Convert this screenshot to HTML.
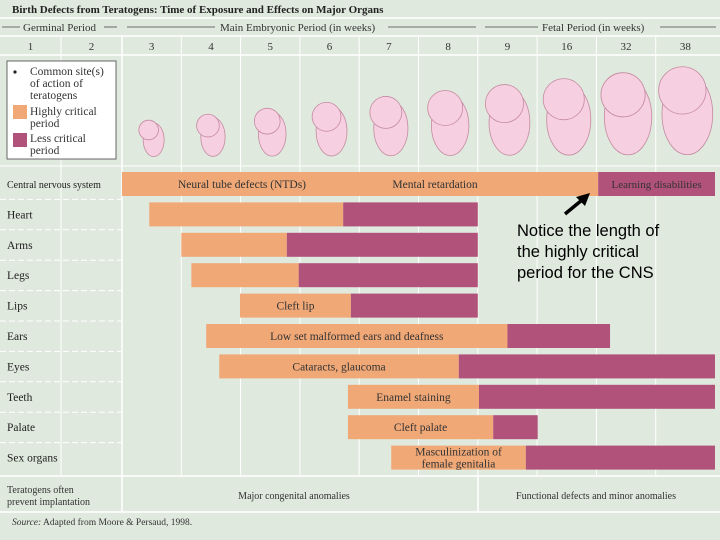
<!DOCTYPE html>
<html><head><meta charset="utf-8"><style>
body{margin:0;background:#dfe9dd;}
svg{display:block;font-family:"Liberation Serif",serif;}
</style></head><body>
<svg id="c" width="720" height="540" viewBox="0 0 720 540">
<rect x="0" y="0" width="720" height="540" fill="#dfe9dd"/>
<g id="grid"></g>
<text x="12" y="13" font-size="11" font-weight="bold" fill="#222">Birth Defects from Teratogens: Time of Exposure and Effects on Major Organs</text>
<g font-size="11" fill="#333">
<text x="23" y="31">Germinal Period</text>
<text x="220" y="31">Main Embryonic Period (in weeks)</text>
<text x="542" y="31">Fetal Period (in weeks)</text>
</g>
<g stroke="#444" stroke-width="0.8">
<line x1="2" y1="27" x2="20" y2="27"/><line x1="104" y1="27" x2="117" y2="27"/>
<line x1="127" y1="27" x2="215" y2="27"/><line x1="388" y1="27" x2="476" y2="27"/>
<line x1="485" y1="27" x2="538" y2="27"/><line x1="660" y1="27" x2="716" y2="27"/>
</g>
<g id="weeks" font-size="11" fill="#333" text-anchor="middle"></g>
<g>
<rect x="7" y="61" width="109" height="98" fill="#fff" stroke="#444" stroke-width="0.8"/>
<circle cx="15" cy="72" r="1.6" fill="#222"/>
<text x="30" y="75" font-size="11.5" fill="#333">Common site(s)</text>
<text x="30" y="87" font-size="11.5" fill="#333">of action of</text>
<text x="30" y="99" font-size="11.5" fill="#333">teratogens</text>
<rect x="13" y="105" width="14" height="14" fill="#f0a877"/>
<text x="30" y="115" font-size="11.5" fill="#333">Highly critical</text>
<text x="30" y="127" font-size="11.5" fill="#333">period</text>
<rect x="13" y="133" width="14" height="14" fill="#b0527a"/>
<text x="30" y="142" font-size="11.5" fill="#333">Less critical</text>
<text x="30" y="154" font-size="11.5" fill="#333">period</text>
</g>
<g id="embryos"></g>
<g id="bars"></g>
<g id="rows" font-size="11" fill="#222"></g>
<line x1="0" y1="476" x2="720" y2="476" stroke="#fff" stroke-width="1.5"/>
<line x1="122" y1="476" x2="122" y2="512" stroke="#fff" stroke-width="1.5"/>
<line x1="478" y1="476" x2="478" y2="512" stroke="#fff" stroke-width="1.5"/>
<line x1="0" y1="512" x2="720" y2="512" stroke="#fff" stroke-width="1.5"/>
<text x="7" y="493" font-size="10" fill="#333">Teratogens often</text>
<text x="7" y="505" font-size="10" fill="#333">prevent implantation</text>
<text x="294" y="499" font-size="10" fill="#333" text-anchor="middle">Major congenital anomalies</text>
<text x="596" y="499" font-size="10" fill="#333" text-anchor="middle">Functional defects and minor anomalies</text>
<text x="12" y="525" font-size="9.5" fill="#333"><tspan font-style="italic">Source:</tspan> Adapted from Moore &amp; Persaud, 1998.</text>
<g>
<line x1="565" y1="214" x2="582" y2="200" stroke="#000" stroke-width="3.5"/>
<polygon points="590,193 576,197 585,206" fill="#000"/>
<text font-family="Liberation Sans, sans-serif" font-size="16.5" fill="#000"><tspan x="517" y="236">Notice the length of</tspan><tspan x="517" y="257">the highly critical</tspan><tspan x="517" y="278">period for the CNS</tspan></text>
</g>
</svg>
<script>
const weekLabels=["1","2","3","4","5","6","7","8","9","16","32","38"];
const organs=["Central nervous system","Heart","Arms","Legs","Lips","Ears","Eyes","Teeth","Palate","Sex organs"];
const highStart=[2.0,2.46,3.0,3.17,3.99,3.42,3.64,5.81,5.81,6.54];
const highEnd=[10.03,5.73,4.78,4.98,5.86,8.5,7.68,8.02,8.26,8.81];
const lowEnd=[12,8,8,8,8,10.23,12,12,9.01,12];
const highText=["Neural tube defects (NTDs)","","","","Cleft lip","Low set malformed ears and deafness","Cataracts, glaucoma","Enamel staining","Cleft palate","Masculinization of|female genitalia"];
const lowText=["Learning disabilities","","","","","","","","",""];
const NS="http://www.w3.org/2000/svg";
function xs(v){return v<2?v*61:122+(v-2)*59.3;}
function ys(i){return 172+i*30.4;}
function mk(t,a,p){const e=document.createElementNS(NS,t);for(const k in a)e.setAttribute(k,a[k]);p.appendChild(e);return e;}
const grid=document.getElementById('grid');
mk('line',{x1:0,y1:18,x2:720,y2:18,stroke:'#fff','stroke-width':1.5},grid);
mk('line',{x1:0,y1:36,x2:720,y2:36,stroke:'#fff','stroke-width':1.5},grid);
mk('line',{x1:0,y1:55,x2:720,y2:55,stroke:'#fff','stroke-width':1.5},grid);
for(let c=1;c<weekLabels.length;c++){
 const x=xs(c);
 const l=mk('line',{x1:x,y1:36,x2:x,y2:476,stroke:'#fff','stroke-width':c==2?1.5:1},grid);
 
 
}
mk('line',{x1:0,y1:166,x2:720,y2:166,stroke:'#fff','stroke-width':1},grid);
const wk=document.getElementById('weeks');
weekLabels.forEach((w,c)=>{
 const t=mk('text',{x:(xs(c)+xs(c+1))/2,y:50},wk);t.textContent=w;
 
 
});
const em=document.getElementById('embryos');
for(let c=2;c<12;c++){
 const cx=(xs(c)+xs(c+1))/2, s=0.7+(c-2)*0.11;
 const g=mk('g',{},em);
 
 
 const cy=158-26*s;
 mk('ellipse',{cx:cx+2,cy:cy,rx:15*s,ry:24*s,fill:'#f6cfe0',stroke:'#c58aa2','stroke-width':0.8},g);
 mk('ellipse',{cx:cx-3,cy:cy-14*s,rx:14*s,ry:14*s,fill:'#f6cfe0',stroke:'#c58aa2','stroke-width':0.8},g);
}
const bars=document.getElementById('bars'), rows=document.getElementById('rows');
organs.forEach((o,i)=>{
 const y=ys(i);
 const t=mk('text',{x:7,y:y+16,'font-size':o.length>12?10:11.5},rows);t.textContent=o;
 
 
 if(i>0){mk('line',{x1:0,y1:y-3,x2:122,y2:y-3,stroke:'#fff','stroke-dasharray':'6 3'},rows);}
 const h=mk('rect',{x:xs(highStart[i]),y:y,width:xs(highEnd[i])-xs(highStart[i]),height:24,fill:'#f0a877'},bars);
 
 
 const l=mk('rect',{x:xs(highEnd[i]),y:y,width:xs(lowEnd[i])-xs(highEnd[i]),height:24,fill:'#b0527a'},bars);
 
 
 if(highText[i]){
  const parts=highText[i].split('|');
  let cx=(xs(highStart[i])+xs(highEnd[i]))/2;
  if(i==0){
   const a=mk('text',{x:xs(2)+120,y:y+16,'font-size':11.5,'text-anchor':'middle',fill:'#333'},bars);a.textContent=parts[0];
   const b=mk('text',{x:435,y:y+16,'font-size':11.5,'text-anchor':'middle',fill:'#333'},bars);b.textContent='Mental retardation';
  }else parts.forEach((p,k)=>{
   const tt=mk('text',{x:cx,y:parts.length>1?y+10+k*12:y+16,'font-size':11.5,'text-anchor':'middle',fill:'#333'},bars);tt.textContent=p;
  });
 }
 if(lowText[i]){const tt=mk('text',{x:(xs(highEnd[i])+xs(lowEnd[i]))/2,y:y+16,'font-size':11,'text-anchor':'middle',fill:'#333'},bars);tt.textContent=lowText[i];}
});
</script>
</body></html>
